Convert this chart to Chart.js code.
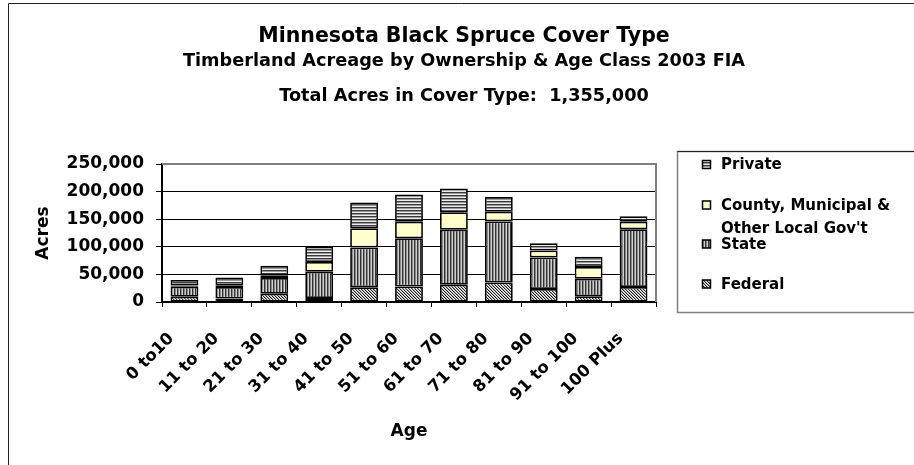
<!DOCTYPE html>
<html>
<head>
<meta charset="utf-8">
<script src="https://cdn.jsdelivr.net/npm/chart.js@4/dist/chart.umd.min.js"></script>
<style>
  html, body { margin: 0; padding: 0; background: #fff; }
  #wrap { width: 914px; height: 465px; }
</style>
</head>
<body>
<div id="wrap"><canvas id="c" width="914" height="465"></canvas></div>
<script>
const categories = ['0 to10', '11 to 20', '21 to 30', '31 to 40', '41 to 50', '51 to 60', '61 to 70', '71 to 80', '81 to 90', '91 to 100', '100 Plus'];
const federal = [9600, 6500, 15000, 7200, 26500, 28300, 31300, 35500, 23500, 10200, 27100];
const state   = [18100, 20500, 28400, 47600, 72300, 87400, 99400, 110300, 57200, 32000, 104800];
const county  = [2000, 3500, 4200, 17500, 34900, 29500, 32000, 17500, 12700, 21100, 13300];
const privateOwn = [10200, 14000, 18100, 27700, 46400, 49400, 42700, 27100, 13200, 18600, 10200];
const seriesNames = ['Federal', 'State', 'County, Municipal &\nOther Local Gov\'t', 'Private'];
const yTicks = [0, 50000, 100000, 150000, 200000, 250000];
const titleText = 'Minnesota Black Spruce Cover Type';
const subtitleText = ['Timberland Acreage by Ownership & Age Class 2003 FIA', 'Total Acres in Cover Type:  1,355,000'];

const FONT = "'DejaVu Sans', Verdana, sans-serif";
const ctxMain = document.getElementById('c').getContext('2d');

function makePattern(w, h, fn) {
  const c = document.createElement('canvas');
  c.width = w; c.height = h;
  const g = c.getContext('2d');
  for (let y = 0; y < h; y++) for (let x = 0; x < w; x++) {
    g.fillStyle = fn(x, y); g.fillRect(x, y, 1, 1);
  }
  return ctxMain.createPattern(c, 'repeat');
}
const hStripe = makePattern(3, 3, (x, y) => ['#3a3a3a', '#999999', '#eeeeee'][y]);
const vStripe = makePattern(3, 3, (x, y) => ['#333333', '#8a8a8a', '#d0d0d0'][x]);
const diag = makePattern(3, 3, (x, y) => ['#222222', '#aaaaaa', '#ffffff'][((x - y) % 3 + 3) % 3]);
const countyFill = '#FFFFCC';

const frameAndLegend = {
  id: 'frameAndLegend',
  beforeDraw(chart) {
    const g = chart.ctx;
    g.save();
    g.fillStyle = '#fff';
    g.fillRect(0, 0, chart.width, chart.height);
    g.strokeStyle = '#222';
    g.lineWidth = 1;
    g.beginPath();
    g.moveTo(8.5, 465); g.lineTo(8.5, 3.5); g.lineTo(914, 3.5);
    g.stroke();
    g.restore();
  },
  afterDatasetsDraw(chart) {
    const g = chart.ctx;
    const a = chart.chartArea;
    g.save();
    g.strokeStyle = '#808080';
    g.lineWidth = 2;
    g.beginPath();
    g.moveTo(a.left, a.top); g.lineTo(a.right, a.top); g.lineTo(a.right, a.bottom);
    g.stroke();
    g.restore();
  },
  afterDraw(chart) {
    const g = chart.ctx;
    g.save();
    g.strokeStyle = '#808080';
    g.lineWidth = 1.5;
    g.strokeRect(677.5, 151.5, 300, 161);
    g.strokeStyle = '#222';
    g.lineWidth = 1;
    g.beginPath(); g.moveTo(677.5, 151.5); g.lineTo(914, 151.5); g.stroke();
    const ds = chart.data.datasets;
    const ys = [285, 245, 206, 165.5];
    g.font = 'bold 15px ' + FONT;
    g.textBaseline = 'middle';
    g.textAlign = 'left';
    for (let i = ds.length - 1; i >= 0; i--) {
      const y = ys[i];
      g.fillStyle = ds[i].backgroundColor;
      g.fillRect(702.5, y - 5, 8, 8);
      g.strokeStyle = '#000';
      g.lineWidth = 1.5;
      g.strokeRect(702.5, y - 5, 8, 8);
      g.fillStyle = '#000';
      const lines = ds[i].label.split('\n');
      lines.forEach((ln, k) => g.fillText(ln, 721, y + k * 23.5));
    }
    g.restore();
  }
};

new Chart(ctxMain, {
  type: 'bar',
  data: {
    labels: categories,
    datasets: [
      { label: seriesNames[0], data: federal, backgroundColor: diag },
      { label: seriesNames[1], data: state, backgroundColor: vStripe },
      { label: seriesNames[2], data: county, backgroundColor: countyFill },
      { label: seriesNames[3], data: privateOwn, backgroundColor: hStripe }
    ].map(d => Object.assign(d, { borderColor: '#000', borderWidth: 1.75, borderSkipped: false, categoryPercentage: 1, barPercentage: 0.62 }))
  },
  options: {
    responsive: false,
    animation: false,
    devicePixelRatio: 1,
    layout: { padding: { left: 14, right: 0, top: 0, bottom: 20 } },
    plugins: {
      legend: { display: false },
      tooltip: { enabled: false },
      title: {
        display: true, text: titleText, color: '#000',
        font: { family: FONT, size: 20.5, weight: 'bold', lineHeight: '11px' },
        padding: { top: 31, bottom: 0 }
      },
      subtitle: {
        display: true, text: subtitleText, color: '#000',
        font: { family: FONT, size: 17.7, weight: 'bold', lineHeight: '35px' },
        padding: { top: 1.5, bottom: 50.5 }
      }
    },
    scales: {
      x: {
        stacked: true,
        afterFit(s) { s.height = 143; },
        grid: { display: true, drawOnChartArea: false, drawTicks: true, tickLength: 5, tickColor: '#000', offset: true },
        border: { display: true, color: '#000', width: 2 },
        ticks: {
          color: '#000', maxRotation: 45, minRotation: 45, autoSkip: false,
          font: { family: FONT, size: 16.5, weight: 'bold' }, padding: 22, labelOffset: -13
        },
        title: {
          display: true, text: 'Age', color: '#000',
          font: { family: FONT, size: 17, weight: 'bold', lineHeight: 1.2 },
          padding: { top: 4, bottom: 3.5 }
        }
      },
      y: {
        stacked: true,
        min: 0, max: 250000,
        afterFit(s) { s.width = 148; },
        afterBuildTicks(s) { s.ticks = yTicks.map(v => ({ value: v })); },
        grid: {
          color: (c) => (c.tick && (c.tick.value === 0 || c.tick.value === 250000)) ? 'rgba(0,0,0,0)' : '#000',
          lineWidth: 1, tickColor: '#000', tickLength: 6, drawTicks: true
        },
        border: { display: true, color: '#000', width: 2 },
        ticks: {
          color: '#000', padding: 12,
          font: { family: FONT, size: 17, weight: 'bold' },
          callback: (v) => Number(v).toLocaleString('en-US')
        },
        title: {
          display: true, text: 'Acres', color: '#000',
          font: { family: FONT, size: 17, weight: 'bold', lineHeight: 1.2 },
          padding: { top: 19.5, bottom: 0 }
        }
      },
      legendSpace: {
        type: 'linear', axis: 'y', position: 'right', display: true,
        afterFit(s) { s.width = 258; },
        grid: { display: false, drawOnChartArea: false, drawTicks: false },
        border: { display: false },
        ticks: { display: false }
      }
    }
  },
  plugins: [frameAndLegend]
});
</script>
</body>
</html>
